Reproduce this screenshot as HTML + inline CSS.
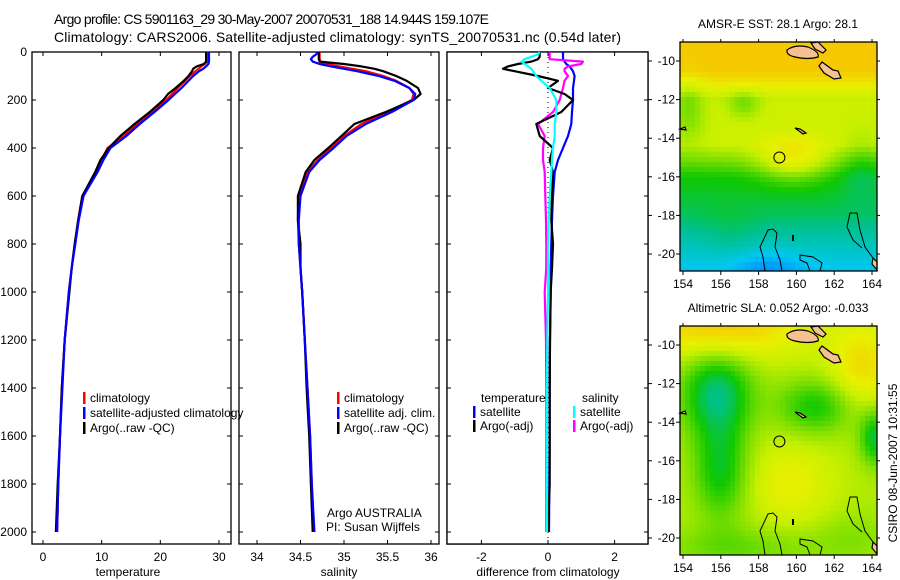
<!DOCTYPE html>
<html><head><meta charset="utf-8"><style>
html,body{margin:0;padding:0;background:#fff;}
svg{display:block;font-family:"Liberation Sans",sans-serif;}
</style></head><body>
<svg id="fig" width="900" height="580" viewBox="0 0 900 580" xmlns="http://www.w3.org/2000/svg">
<rect width="900" height="580" fill="#fff"/>
<text x="54" y="24" font-size="14" textLength="435">Argo profile: CS 5901163_29 30-May-2007 20070531_188 14.944S 159.107E</text>
<text x="54" y="42" font-size="14" textLength="567">Climatology: CARS2006. Satellite-adjusted climatology: synTS_20070531.nc (0.54d later)</text>
<g id="g"></g>
</svg>
<script>
const depths=[0,10,20,30,40,50,60,70,80,100,120,150,175,200,250,300,350,400,450,500,600,700,800,900,1000,1200,1400,1600,1800,2000];
const tempClim=[28,28,28,28,28,27.6,27,26.5,26,25,24.2,23,22,21,18.5,16,13.8,11,10,9.2,6.7,6,5.4,4.9,4.4,3.7,3.2,2.9,2.6,2.4];
const tempSat=[28.3,28.3,28.3,28.3,28.3,28.2,27.8,27.3,26.6,25.6,24.8,23.6,22.5,21.4,19,16.5,14.2,11.5,10.3,9.3,6.9,6.1,5.5,4.9,4.4,3.7,3.3,2.9,2.6,2.4];
const tempArgo=[27.8,27.8,27.8,27.8,27.8,27.4,26.2,25.6,25.4,24.8,24,22.6,21.3,20.5,18.2,15.6,13.2,11.2,9.8,8.9,6.7,6,5.4,4.9,4.5,3.7,3.2,2.9,2.5,2.2];
const salClim=[34.72,34.72,34.72,34.72,34.73,34.8,34.95,35.1,35.25,35.45,35.6,35.75,35.8,35.78,35.5,35.2,35.0,34.85,34.7,34.58,34.48,34.47,34.48,34.5,34.52,34.55,34.58,34.61,34.63,34.65];
const salSat=[34.7,34.68,34.64,34.62,34.64,34.72,34.85,35.0,35.15,35.4,35.58,35.75,35.82,35.8,35.55,35.25,35.03,34.88,34.72,34.6,34.5,34.48,34.48,34.5,34.52,34.55,34.58,34.61,34.63,34.66];
const salArgo=[34.71,34.71,34.71,34.71,34.72,35.0,35.2,35.35,35.45,35.6,35.72,35.85,35.88,35.8,35.48,35.12,34.97,34.82,34.66,34.56,34.47,34.47,34.5,34.5,34.52,34.55,34.57,34.6,34.62,34.64];
const diffTempSat=[0.45,0.45,0.45,0.45,0.5,0.55,0.65,0.7,0.75,0.8,0.78,0.75,0.75,0.75,0.72,0.7,0.6,0.45,0.3,0.2,0.15,0.12,0.1,0.08,0.08,0.06,0.05,0.05,0.04,0.03];
const diffTempArgo=[-0.25,-0.25,-0.25,-0.3,-0.5,-0.9,-1.2,-1.35,-1.0,-0.3,0.3,0.0,0.5,0.75,0.4,-0.35,-0.25,0.15,0.05,0.15,0.12,0.1,0.15,0.12,0.08,0.06,0.05,0.05,0.05,0];
const diffSalSat=[-0.25,-0.3,-0.5,-0.7,-0.8,-0.7,-0.6,-0.5,-0.45,-0.35,-0.2,0.05,0.15,0.25,0.25,0.2,0.2,0.15,0.12,0.1,0.05,0.02,0,0,0,-0.02,-0.03,-0.03,-0.03,-0.03];
const diffSalArgo=[0.05,0.05,0.05,0.05,1.05,1.0,0.6,0.5,0.5,0.6,0.5,0.45,0.4,0.35,0.15,-0.3,-0.1,-0.15,-0.15,-0.1,-0.08,-0.06,-0.05,-0.05,-0.1,-0.06,-0.05,-0.05,-0.05,-0.05];
const depthTicks=[0,200,400,600,800,1000,1200,1400,1600,1800,2000];
const tempTicks=[0,10,20,30];
const salTicks=[34,34.5,35,35.5,36];
const salTickLabels=["34","34.5","35","35.5","36"];
const diffTicks=[-2,0,2];
const lonTicks=[154,156,158,160,162,164];
const latTicks=[-10,-12,-14,-16,-18,-20];

const NS="http://www.w3.org/2000/svg";
const G=document.getElementById('g');
function mk(tag,attrs,parent){const e=document.createElementNS(NS,tag);for(const k in attrs)e.setAttribute(k,attrs[k]);(parent||G).appendChild(e);return e;}
const Y=d=>52+d*0.24;
const xTemp=v=>43+v*(176/30);
const xSal=v=>257+(v-34)*87;
const xDiff=v=>548+v*33.3;

function frame(x0,x1,name){
  const r=mk('rect',{x:x0,y:52,width:x1-x0,height:492,fill:'none',stroke:'#000','stroke-width':1.3});
  
  
  depthTicks.forEach(d=>{
    mk('line',{x1:x0,x2:x0+4,y1:Y(d),y2:Y(d),stroke:'#000'});
    mk('line',{x1:x1,x2:x1-4,y1:Y(d),y2:Y(d),stroke:'#000'});
  });
}
function xticks(vals,labels,fx,name){
  vals.forEach((v,i)=>{
    const x=fx(v);
    mk('line',{x1:x,x2:x,y1:544,y2:540,stroke:'#000'});
    mk('line',{x1:x,x2:x,y1:52,y2:56,stroke:'#000'});
    const t=mk('text',{x:x,y:561,'font-size':12,'text-anchor':'middle'});
    t.textContent=labels[i];
    
    
  });
}
function series(vals,fx,color,name,w){
  const pts=vals.map((v,i)=>fx(v).toFixed(1)+','+Y(depths[i]).toFixed(1)).join(' ');
  const p=mk('polyline',{points:pts,fill:'none',stroke:color,'stroke-width':w||2.2,'stroke-linejoin':'round'});
  
  
}
function label(x,y,txt,name,size,anchor){
  const t=mk('text',{x:x,y:y,'font-size':size||12,'text-anchor':anchor||'start'});
  t.textContent=txt;
  
  
  return t;
}
function legendEntry(x,y,color,txt,name){
  mk('rect',{x:x,y:y-10,width:2.5,height:12,fill:color});
  const t=label(x+7,y,txt,name);
}

// Panel 1 temperature
frame(32,231,'temperature-panel');
depthTicks.forEach(d=>label(27,Y(d)+4,String(d),'depth-tick-label',12,'end'));
xticks(tempTicks,tempTicks.map(String),xTemp,'temperature');
label(128,576,'temperature','temperature-axis-title',12,'middle');
series(tempClim,xTemp,'#f00','temp-climatology-line');
series(tempArgo,xTemp,'#000','temp-argo-line');
series(tempSat,xTemp,'#00f','temp-satellite-line');
legendEntry(83,402,'#f00','climatology','legend-entry-climatology');
legendEntry(83,417,'#00f','satellite-adjusted climatology','legend-entry-satellite');
legendEntry(83,432,'#000','Argo(..raw -QC)','legend-entry-argo');

// Panel 2 salinity
frame(239,439,'salinity-panel');
xticks(salTicks,salTickLabels,xSal,'salinity');
label(339,576,'salinity','salinity-axis-title',12,'middle');
series(salClim,xSal,'#f00','sal-climatology-line');
series(salArgo,xSal,'#000','sal-argo-line');
series(salSat,xSal,'#00f','sal-satellite-line');
legendEntry(337,402,'#f00','climatology','legend-entry-sal-climatology');
legendEntry(337,417,'#00f','satellite adj. clim.','legend-entry-sal-satellite');
legendEntry(337,432,'#000','Argo(..raw -QC)','legend-entry-sal-argo');
label(327,517,'Argo AUSTRALIA','credit-argo-australia');
label(326,531,'PI: Susan Wijffels','credit-pi');

// Panel 3 difference
frame(447,648,'difference-panel');
mk('rect',{x:447,y:52,width:201,height:492,fill:'#fff',stroke:'none'});
frame(447,648,'difference-panel-frame');
xticks(diffTicks,diffTicks.map(String),xDiff,'difference');
label(548,576,'difference from climatology','difference-axis-title',12,'middle');
mk('line',{x1:xDiff(0),x2:xDiff(0),y1:52,y2:544,stroke:'#000','stroke-dasharray':'1,4'});
series(diffTempSat,xDiff,'#00f','diff-temp-satellite-line');
series(diffSalArgo,xDiff,'#f0f','diff-sal-argo-line');
series(diffTempArgo,xDiff,'#000','diff-temp-argo-line');
series(diffSalSat,xDiff,'#0ff','diff-sal-satellite-line');
label(481,402,'temperature','legend-title-temperature');
label(582,402,'salinity','legend-title-salinity');
legendEntry(473,416,'#00f','satellite','legend-entry-temp-satellite');
legendEntry(473,430,'#000','Argo(-adj)','legend-entry-temp-argo');
legendEntry(573,416,'#0ff','satellite','legend-entry-sal-satellite');
legendEntry(573,430,'#f0f','Argo(-adj)','legend-entry-sal-argo');

// Maps
const stops=[[0,[0,128,255]],[0.15,[0,200,240]],[0.3,[0,192,140]],[0.42,[16,200,0]],[0.55,[128,224,0]],[0.65,[200,240,0]],[0.74,[232,240,0]],[0.86,[245,200,0]],[1,[245,165,0]]];
function cmap(v){v=Math.max(0,Math.min(1,v));for(let i=1;i<stops.length;i++){if(v<=stops[i][0]){const a=stops[i-1],b=stops[i],t=(v-a[0])/(b[0]-a[0]);return 'rgb('+a[1].map((c,k)=>Math.round(c+(b[1][k]-c)*t)).join(',')+')';}}return 'rgb(245,165,0)';}
const gs=(lon,lat,cx,cy,sx,sy,a)=>a*Math.exp(-((lon-cx)**2)/(2*sx*sx)-((lat-cy)**2)/(2*sy*sy));
function sst(lon,lat){
  let v;
  if(lat>-10.5)v=0.86;else if(lat>-12)v=0.86-(-10.5-lat)*0.14;else if(lat>-14.3)v=0.66;else if(lat>-16)v=0.66-(-14.3-lat)*0.14;else if(lat>-18)v=0.42-(-16-lat)*0.04;else v=0.34-(-18-lat)*0.07;
  v+=gs(lon,lat,159.8,-15.2,1.3,0.8,0.2);
  v-=gs(lon,lat,157.2,-12.2,0.6,0.5,0.12);
  v-=gs(lon,lat,154.3,-12.5,0.6,1.2,0.12);
  v-=gs(lon,lat,163.5,-15.5,0.8,1.2,0.08);
  v-=gs(lon,lat,158.5,-20.7,1.2,0.6,0.1);
  v+=gs(lon,lat,156.5,-19,1,1,0.04);
  return v;
}
function sla(lon,lat){
  let v=0.62;
  v+=gs(lon,lat,156,-9,3,1.2,0.25);
  v+=gs(lon,lat,163.5,-11,1.2,1.5,0.18);
  v-=gs(lon,lat,155.8,-12.5,1.3,1.6,0.3);
  v-=gs(lon,lat,156,-16.5,1,1.8,0.22);
  v-=gs(lon,lat,161,-13.2,1.4,1,0.2);
  v-=gs(lon,lat,164.2,-14.8,0.6,1,0.25);
  v+=gs(lon,lat,159.7,-17.2,1.5,1.5,0.12);
  v-=gs(lon,lat,157,-20.5,3,0.8,0.1);
  v-=gs(lon,lat,163,-20,1.5,1,0.06);
  return v;
}
function drawMap(top,field,title,name){
  const left=680,w=197,h=229;
  const gm=mk('g',{});
  
  
  const lonOf=x=>154+(x-683)/18.9, latOf=y=>-10-(y-(top+19))/19.3;
  const cs=5;
  for(let y=top;y<top+h;y+=cs)for(let x=left;x<left+w;x+=cs){
    const c=mk('rect',{x:x,y:y,width:Math.min(cs,left+w-x)+0.3,height:Math.min(cs,top+h-y)+0.3,fill:cmap(field(lonOf(x+2.5),latOf(y+2.5)))},gm);
  }
  const dy=top-42;
  const isl=mk('g',{transform:'translate(0,'+dy+')',fill:'#f7c090',stroke:'#000','stroke-width':1.2},gm);
  mk('path',{d:'M787,50 Q795,44 808,47 Q820,52 818,57 Q808,60 795,57 Q786,55 787,50Z'},isl);
  mk('path',{d:'M811,43 L818,42 L826,50 L823,53 L815,49Z'},isl);
  mk('path',{d:'M819,66 L822,62 L833,70 L838,71 L841,78 L834,79 L824,73Z'},isl);
  mk('path',{d:'M795,128 L800,129 L806,133 L803,134Z'},isl);
  mk('path',{d:'M680,129 L685,127 L686,130Z'},isl);
  mk('path',{d:'M873,258 L877,262 L877,270 L872,264Z'},isl);
  const ct=mk('g',{transform:'translate(0,'+dy+')',fill:'none',stroke:'#000','stroke-width':1},gm);
  mk('path',{d:'M765,271 L763,257 L760,247 L768,230 L773,229 L777,233 L775,247 L780,260 L782,271'},ct);
  mk('path',{d:'M810,271 L807,263 L800,260 L800,255 L813,257 L822,263 L820,271'},ct);
  mk('path',{d:'M873,258 L865,247 L860,230 L857,213 L850,213 L847,227 L853,240 L862,248'},ct);
  mk('rect',{x:792,y:235,width:2,height:6,fill:'#000',stroke:'none'},ct);
  mk('circle',{cx:683+(159.1-154)*18.9,cy:top+19+5*19.3,r:5.5,fill:'none',stroke:'#000','stroke-width':1},gm);
  const fr=mk('rect',{x:left,y:top,width:w,height:h,fill:'none',stroke:'#000','stroke-width':1.3});
  
  
  lonTicks.forEach(l=>{const x=683+(l-154)*18.9;
    mk('line',{x1:x,x2:x,y1:top+h,y2:top+h+4,stroke:'#000'});
    mk('line',{x1:x,x2:x,y1:top,y2:top-3,stroke:'#000'});
    label(x,top+h+17,String(l),name+'-lon-tick-label',12,'middle');});
  latTicks.forEach(l=>{const y=top+19+(-10-l)*19.3;
    mk('line',{x1:left,x2:left-4,y1:y,y2:y,stroke:'#000'});
    mk('line',{x1:left+w,x2:left+w+3,y1:y,y2:y,stroke:'#000'});
    mk('line',{x1:648,x2:652,y1:y,y2:y,stroke:'#000'});
    label(675,y+4,String(l),name+'-lat-tick-label',12,'end');});
  label(778,top-14,title,name+'-title',12,'middle');
}
drawMap(42,sst,'AMSR-E SST: 28.1 Argo: 28.1','sst-map');
drawMap(326,sla,'Altimetric SLA: 0.052 Argo: -0.033','sla-map');
const ts=label(0,0,'CSIRO 08-Jun-2007 10:31:55','timestamp',12,'middle');
ts.setAttribute('transform','translate(897,463) rotate(-90)');
</script>
</body></html>
